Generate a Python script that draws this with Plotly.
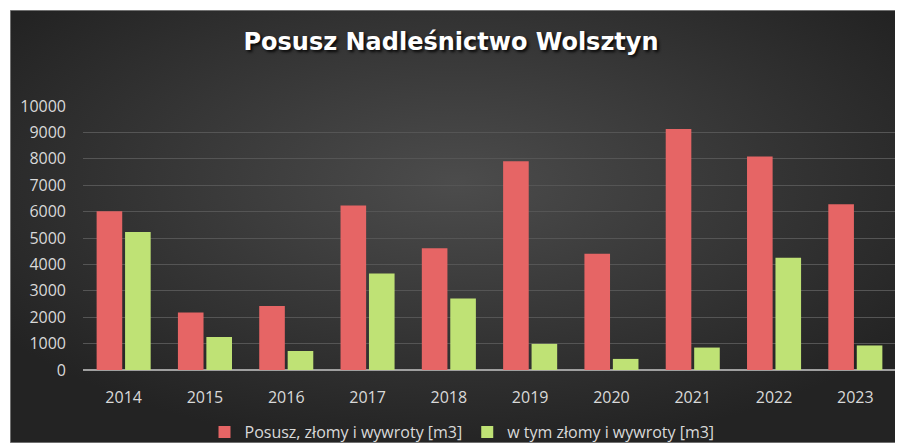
import plotly.graph_objects as go
import urllib.parse

years = ["2014", "2015", "2016", "2017", "2018", "2019", "2020", "2021", "2022", "2023"]
posusz = [6010, 2180, 2420, 6230, 4610, 7910, 4400, 9130, 8090, 6280]
zlomy = [5230, 1250, 720, 3660, 2710, 990, 420, 850, 4250, 930]

name_posusz = "Posusz, złomy i wywroty [m3]"
name_zlomy = "w tym złomy i wywroty [m3]"
title_text = "Posusz Nadleśnictwo Wolsztyn"

# page body has an 8px margin; figure sized to fit the 903x443 window
OFF = 8
W, H = 903 - OFF, 443 - OFF
ml, mr, mt, mb = 83 - OFF, 7, 106 - OFF, 73
pw, ph = W - ml - mr, H - mt - mb

svg = (
    '<svg xmlns="http://www.w3.org/2000/svg" width="893" height="433" preserveAspectRatio="none">'
    '<defs><radialGradient id="g" cx="50%" cy="40%" r="62%">'
    '<stop offset="0%" stop-color="#4c4c4c"/><stop offset="100%" stop-color="#232323"/>'
    '</radialGradient></defs>'
    '<rect width="893" height="433" fill="url(#g)" stroke="#8a8a8a" stroke-width="1.5"/></svg>'
)
bg_src = "data:image/svg+xml;charset=utf-8," + urllib.parse.quote(svg)

fig = go.Figure()
fig.add_trace(go.Bar(
    x=years, y=posusz, name=name_posusz,
    marker=dict(color="#e66565", line=dict(width=0)),
))
fig.add_trace(go.Bar(
    x=years, y=zlomy, name=name_zlomy,
    marker=dict(color="#bfe275", line=dict(width=0)),
))

bg_x0, bg_y0 = 10 - OFF, 10 - OFF  # background top-left in figure px

fig.update_layout(
    width=W, height=H,
    margin=dict(l=ml, r=mr, t=mt, b=mb, autoexpand=False),
    paper_bgcolor="white",
    plot_bgcolor="rgba(0,0,0,0)",
    barmode="group",
    bargap=0.3,
    bargroupgap=0.1,
    font=dict(family="Open Sans", color="#d9d9d9", size=14),
    title=dict(
        text=title_text,
        x=(451 - OFF) / W, xref="container", xanchor="center",
        y=1 - (42 - OFF) / H, yref="container", yanchor="middle",
        font=dict(family="DejaVu Sans", size=24, color="white", weight="bold",
                  shadow="2px 2px 3px rgba(0,0,0,0.85)"),
    ),
    showlegend=True,
    legend=dict(
        orientation="h",
        x=(462 - 83) / pw, xanchor="center",
        y=-(415 - 370) / ph, yanchor="top",
        font=dict(size=16, color="#d9d9d9"),
        bgcolor="rgba(0,0,0,0)",
        itemwidth=30,
        traceorder="normal",
    ),
    images=[dict(
        source=bg_src,
        xref="paper", yref="paper",
        x=(bg_x0 - ml) / pw, y=(H - mb - bg_y0) / ph,
        sizex=(W - bg_x0) / pw, sizey=(H - bg_y0) / ph,
        xanchor="left", yanchor="top",
        sizing="stretch", layer="below",
    )],
    xaxis=dict(
        showgrid=False,
        showline=False,
        ticks="",
        tickfont=dict(size=16, color="#d9d9d9"),
        ticklabelstandoff=16,
    ),
    yaxis=dict(
        range=[0, 10000],
        tickvals=[0, 1000, 2000, 3000, 4000, 5000, 6000, 7000, 8000, 9000, 10000],
        ticktext=["0", "1000", "2000", "3000", "4000", "5000", "6000", "7000", "8000", "9000", "10000"],
        showgrid=True,
        gridcolor="#555555",
        gridwidth=1,
        zeroline=True,
        zerolinecolor="#a0a0a0",
        zerolinewidth=2,
        showline=False,
        ticks="",
        tickfont=dict(size=16, color="#d9d9d9"),
        ticklabelstandoff=16,
    ),
)

fig.write_html("out.html")
